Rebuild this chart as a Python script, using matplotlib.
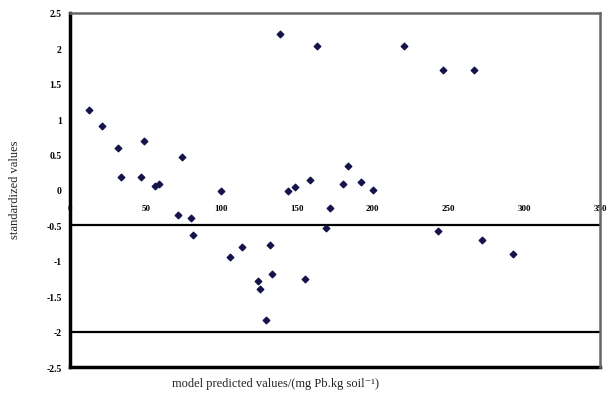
import matplotlib.pyplot as plt
import numpy as np

predicted = [12.5, 21, 31.5, 49, 74, 33.5, 47, 56, 59, 100,
             71.5, 80, 81, 113.5, 105.5, 132, 133.5, 124, 125.5, 129.5,
             183.5, 180, 192, 200, 158.5, 148.5, 144, 172, 169, 139,
             163, 220.5, 246, 267, 243, 272, 292.5, 155]
residuals = [1.13, 0.90, 0.60, 0.69, 0.46, 0.18, 0.18, 0.05, 0.08, -0.02,
             -0.36, -0.39, -0.64, -0.81, -0.95, -0.78, -1.19, -1.29, -1.40, -1.83,
             0.34, 0.08, 0.12, 0.0, 0.14, 0.04, -0.02, -0.25, -0.53, 2.20,
             2.03, 2.03, 1.69, 1.69, -0.58, -0.71, -0.90, -1.25]
ref_lines = [-0.5, -2]
x_ticks = [0, 50, 100, 150, 200, 250, 300, 350]
y_ticks = [2.5, 2, 1.5, 1, 0.5, 0, -0.5, -1, -1.5, -2, -2.5]

serif = ['Liberation Serif', 'DejaVu Serif']

fig = plt.figure(figsize=(6.1, 4.02), dpi=100)
ax = fig.add_axes([70/610, 1 - 368/402, 530/610, 354/402])

# x axis crosses at zero, drawn without a line; frame bottom added separately
ax.spines['bottom'].set_position(('data', 0))
ax.spines['bottom'].set_visible(False)

ax.scatter(predicted, residuals, marker='D', s=11, color='#14144a', zorder=3)
for y in ref_lines:
    ax.axhline(y, color='black', lw=1.6)

ax.set_xlim(0, 350)
ax.set_ylim(-2.5, 2.5)
ax.set_xticks(x_ticks)
ax.set_yticks(y_ticks)
ax.set_xticklabels([str(v) for v in x_ticks], fontsize=6.5, fontweight='bold', family=serif)
ax.set_yticklabels([f'{v:g}' for v in y_ticks], fontsize=7, fontweight='bold', family=serif)
ax.tick_params(length=0)
ax.tick_params(axis='x', pad=10)
ax.tick_params(axis='y', pad=6)

ax.axhline(-2.5, color='black', lw=2.5, clip_on=False)
ax.spines['left'].set_linewidth(2.5)
ax.spines['top'].set_color('#666666')
ax.spines['top'].set_linewidth(1.8)
ax.spines['right'].set_color('#666666')
ax.spines['right'].set_linewidth(1.8)

fig.text(275/610, 1 - 384/402, 'model predicted values/(mg Pb.kg soil⁻¹)',
         ha='center', va='center', fontsize=9, family=serif, color='#222222')
fig.text(15/610, 1 - 190/402, 'standardized values',
         ha='center', va='center', rotation=90, fontsize=9, family=serif, color='#222222')

fig.savefig('out.png', dpi=100)
